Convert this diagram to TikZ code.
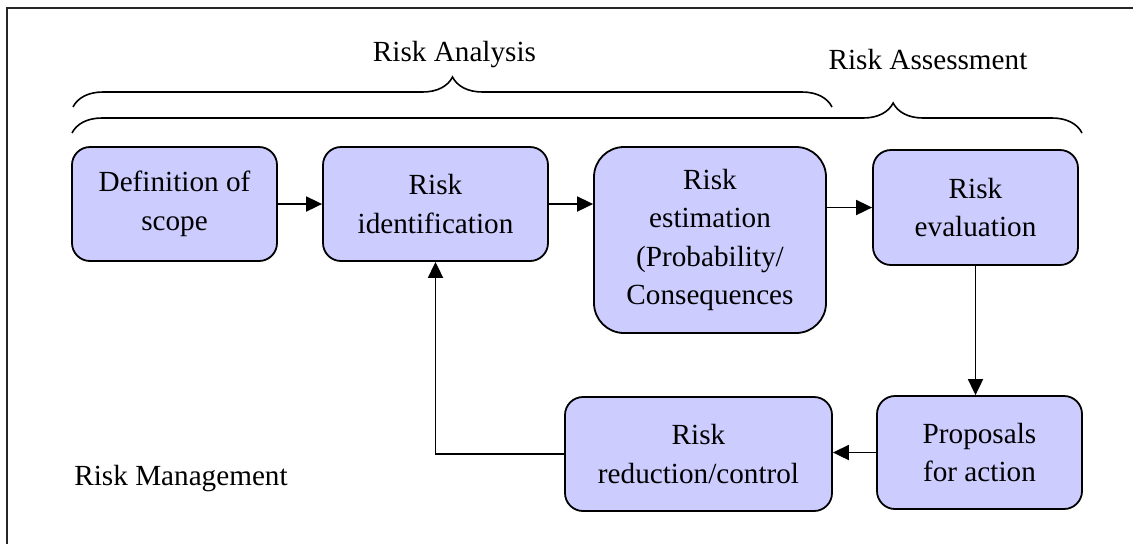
\documentclass[tikz,border=0pt]{standalone}
\usepackage{fontspec}
\setmainfont{Liberation Serif}
\usetikzlibrary{arrows.meta,decorations.pathreplacing}
\definecolor{lavender}{RGB}{204,204,255}

\begin{document}
\begin{tikzpicture}[x=0.5pt, y=-0.5pt, font=\fontsize{14.6}{19.3}\selectfont,
	stage/.style={draw, line width=0.9pt, fill=lavender, rounded corners=9pt, align=center, inner sep=0pt},
	flow/.style={line width=0.9pt, -{Triangle[length=8pt,width=7.5pt]}},
	bracket/.style={line width=0.8pt, decorate, decoration={brace, amplitude=15pt, aspect=#1}}]
			\useasboundingbox (0,0) rectangle (1133,543);
			\draw[line width=0.8pt, black!85] (7,560) -- (7,8) -- (1150,8);
			
			\node[stage, minimum width=102.5pt, minimum height=57pt] (scope) at (174.5,204) {Definition of\\scope};
			\node[stage, minimum width=112.5pt, minimum height=57pt] (ident) at (435.5,204) {Risk\\identification};
			\node[stage, minimum width=116pt, minimum height=93pt, rounded corners=15pt] (estim) at (710,240) {Risk\\estimation\\(Probability/\\Consequences};
			\node[stage, minimum width=102.5pt, minimum height=57.5pt] (evalu) at (975.5,207.5) {Risk\\evaluation};
			\node[stage, minimum width=102.5pt, minimum height=56.5pt] (propo) at (979.5,452.5) {Proposals\\for action};
			\node[stage, minimum width=133.5pt, minimum height=57pt] (reduc) at (698.5,454) {Risk\\reduction/control};
			
			\node[anchor=base] (analysis) at (454.5,61) {Risk Analysis};
			\node[anchor=base] (assess) at (928,69) {Risk Assessment};
			\node[anchor=base west, inner sep=0pt] (manage) at (74,485) {Risk Management};
			
			\coordinate (anaL) at (73,107);
			\coordinate (anaR) at (832,107);
			\coordinate (assL) at (72,133);
			\coordinate (assR) at (1082,133);
			\draw[bracket=0.5] (anaL) -- (anaR);
			\draw[bracket=0.813] (assL) -- (assR);
			
			\draw[flow] (scope.east) -- (scope.east -| ident.west);
			\draw[flow] (ident.east) -- (ident.east -| estim.west);
			\draw[flow] (evalu.west -| estim.east) -- (evalu.west);
			\draw[flow] (evalu.south) -- (evalu.south |- propo.north);
			\draw[flow] (propo.west) -- (propo.west -| reduc.east);
			\draw[flow] (reduc.west) -| (ident.south);
		\end{tikzpicture}
\end{document}
